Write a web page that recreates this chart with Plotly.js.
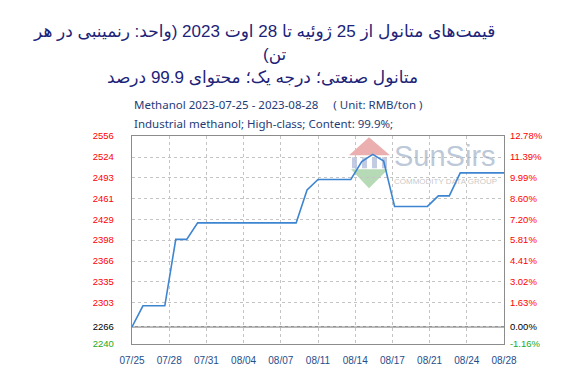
<!DOCTYPE html>
<html>
<head>
<meta charset="utf-8">
<script src="https://cdn.plot.ly/plotly-3.0.1.min.js"></script>
<style>html,body{margin:0;padding:0;background:#fff}#chart{width:576px;height:374px}</style>
</head>
<body>
<div id="chart"></div>
<script>
// ---- data ----
const dates = ["2023-07-25","2023-07-26","2023-07-28","2023-07-29","2023-07-30","2023-07-31",
  "2023-08-09","2023-08-10","2023-08-11","2023-08-14","2023-08-15","2023-08-16","2023-08-17",
  "2023-08-18","2023-08-21","2023-08-22","2023-08-23","2023-08-24","2023-08-28"];
const prices = [2266,2298,2298,2399,2399,2424,2424,2474,2490,2490,2517,2528,2518,2449,2449,2465,2465,2500,2500];
const basePrice = 2266;
const yTickLabels = [2556,2524,2493,2461,2429,2398,2366,2335,2303,2266,2240];
const pctTicks = [12.78,11.39,9.99,8.60,7.20,5.81,4.41,3.02,1.63,0.00,-1.16];
const xTickText = ["07/25","07/28","07/31","08/04","08/07","08/11","08/14","08/17","08/21","08/24","08/28"];
const startDate = "2023-07-25", endDate = "2023-08-28";

const titleLine1 = "قیمت‌های متانول از 25 ژوئیه تا 28 اوت 2023 (واحد: رنمینبی در هر";
const titleLine2 = "(تن";
const titleLine3 = "متانول صنعتی؛ درجه یک؛ محتوای 99.9 درصد";
const sub1 = "Methanol 2023-07-25 - 2023-08-28&nbsp;&nbsp;&nbsp;&nbsp;&nbsp;( Unit: RMB/ton )";
const sub2 = "Industrial methanol; High-class; Content: 99.9%;";

// ---- derived ----
function tickColor(p){ return p > 0 ? "#ff0000" : (p < 0 ? "#22aa22" : "#000000"); }
const leftText = pctTicks.map((p,i) => `<span style="color:${tickColor(p)}">${yTickLabels[i]}</span>`);
const rightText = pctTicks.map(p => `<span style="color:${tickColor(p)}">${p.toFixed(2)}%</span>`);
const yRange = [Math.min(...yTickLabels), Math.max(...yTickLabels)];
const t0 = new Date(startDate + "T00:00:00Z").getTime(), t1 = new Date(endDate + "T00:00:00Z").getTime();
const xTickVals = xTickText.map((_, i) => new Date(t0 + (t1 - t0) * i / (xTickText.length - 1)).toISOString().replace("T"," ").slice(0,19));

const px = v => (v - 132) / 372, py = v => (344 - v) / 208.3;

const traces = [
  {x: dates, y: prices, type: "scatter", mode: "lines", line: {color: "#3d85d1", width: 1.6}, hoverinfo: "x+y", xaxis: "x", yaxis: "y"},
  {x: dates, y: prices, type: "scatter", mode: "lines", line: {width: 0}, opacity: 0, hoverinfo: "skip", xaxis: "x", yaxis: "y2", showlegend: false}
];

const tickFont = "Liberation Sans, Arial, sans-serif";
const titleFont = {family: "Liberation Sans, DejaVu Sans, sans-serif", size: 17, color: "#1c2378"};

const layout = {
  width: 576, height: 374,
  margin: {l: 132, r: 72, t: 136, b: 30},
  paper_bgcolor: "#ffffff", plot_bgcolor: "#ffffff",
  showlegend: false,
  xaxis: {
    type: "date", range: [startDate, endDate],
    tickmode: "array", tickvals: xTickVals, ticktext: xTickText,
    tickfont: {family: tickFont, size: 10, color: "#1f4e8a"},
    ticks: "outside", ticklen: 7, tickcolor: "rgba(0,0,0,0)",
    showgrid: true, gridcolor: "#c4c4c4", griddash: "dot", gridwidth: 1,
    showline: true, linecolor: "#8c8c8c", linewidth: 1.2, mirror: true,
    zeroline: false, fixedrange: true
  },
  yaxis: {
    range: yRange, tickmode: "array", tickvals: yTickLabels, ticktext: leftText,
    tickfont: {family: tickFont, size: 9.5},
    ticks: "outside", ticklen: 15, tickcolor: "rgba(0,0,0,0)",
    showgrid: true, gridcolor: "#c4c4c4", griddash: "dot", gridwidth: 1,
    showline: true, linecolor: "#8c8c8c", linewidth: 1.2, mirror: true,
    zeroline: false, fixedrange: true
  },
  yaxis2: {
    overlaying: "y", side: "right", range: yRange,
    tickmode: "array", tickvals: yTickLabels, ticktext: rightText,
    tickfont: {family: tickFont, size: 9.5},
    ticks: "outside", ticklen: 3, tickcolor: "rgba(0,0,0,0)",
    showgrid: false, zeroline: false, showline: false, fixedrange: true
  },
  shapes: [
    {type: "line", xref: "paper", x0: 0, x1: 1, yref: "y", y0: basePrice, y1: basePrice, line: {color: "#6e6e6e", width: 1.2}, layer: "below"},
    // watermark logo
    {type: "path", xref: "paper", yref: "paper", layer: "below",
     path: `M ${px(349)} ${py(155)} L ${px(369)} ${py(137)} L ${px(390)} ${py(155)} Z`,
     fillcolor: "rgba(220,110,110,0.55)", line: {width: 0}},
    {type: "path", xref: "paper", yref: "paper", layer: "below",
     path: `M ${px(351)} ${py(169)} L ${px(388)} ${py(169)} L ${px(369)} ${py(188)} Z`,
     fillcolor: "rgba(110,180,110,0.5)", line: {width: 0}},
    {type: "rect", xref: "paper", yref: "paper", layer: "below", x0: px(352), x1: px(357), y0: py(168), y1: py(157), fillcolor: "rgba(120,140,190,0.45)", line: {width: 0}},
    {type: "rect", xref: "paper", yref: "paper", layer: "below", x0: px(362), x1: px(367), y0: py(168), y1: py(157), fillcolor: "rgba(120,140,190,0.45)", line: {width: 0}},
    {type: "rect", xref: "paper", yref: "paper", layer: "below", x0: px(372), x1: px(377), y0: py(168), y1: py(157), fillcolor: "rgba(120,140,190,0.45)", line: {width: 0}},
    {type: "rect", xref: "paper", yref: "paper", layer: "below", x0: px(382), x1: px(387), y0: py(168), y1: py(157), fillcolor: "rgba(120,140,190,0.45)", line: {width: 0}}
  ],
  annotations: [
    {text: titleLine1, xref: "paper", yref: "paper", x: px(264), y: py(31), xanchor: "center", yanchor: "middle", showarrow: false, font: titleFont},
    {text: titleLine2, xref: "paper", yref: "paper", x: px(275), y: py(54), xanchor: "center", yanchor: "middle", showarrow: false, font: titleFont},
    {text: titleLine3, xref: "paper", yref: "paper", x: px(262), y: py(77), xanchor: "center", yanchor: "middle", showarrow: false, font: titleFont},
    {text: sub1, xref: "paper", yref: "paper", x: 0, y: py(104), xanchor: "left", yanchor: "middle", showarrow: false,
     font: {family: "Noto Sans, Open Sans, sans-serif", size: 11.5, color: "#1f3c78"}},
    {text: sub2, xref: "paper", yref: "paper", x: 0, y: py(123), xanchor: "left", yanchor: "middle", showarrow: false,
     font: {family: "Noto Sans, Open Sans, sans-serif", size: 11.5, color: "#1f3c78"}},
    {text: "SunSirs", xref: "paper", yref: "paper", x: px(445), y: py(156), xanchor: "center", yanchor: "middle", showarrow: false,
     font: {family: "Liberation Sans, Arial, sans-serif", size: 29, color: "rgba(150,170,195,0.65)"}},
    {text: "COMMODITY DATA GROUP", xref: "paper", yref: "paper", x: px(445), y: py(181), xanchor: "center", yanchor: "middle", showarrow: false,
     font: {family: "Liberation Sans, Arial, sans-serif", size: 8, color: "rgba(160,160,160,0.6)"}}
  ]
};

Plotly.newPlot("chart", traces, layout, {displayModeBar: false, staticPlot: true});
</script>
</body>
</html>
